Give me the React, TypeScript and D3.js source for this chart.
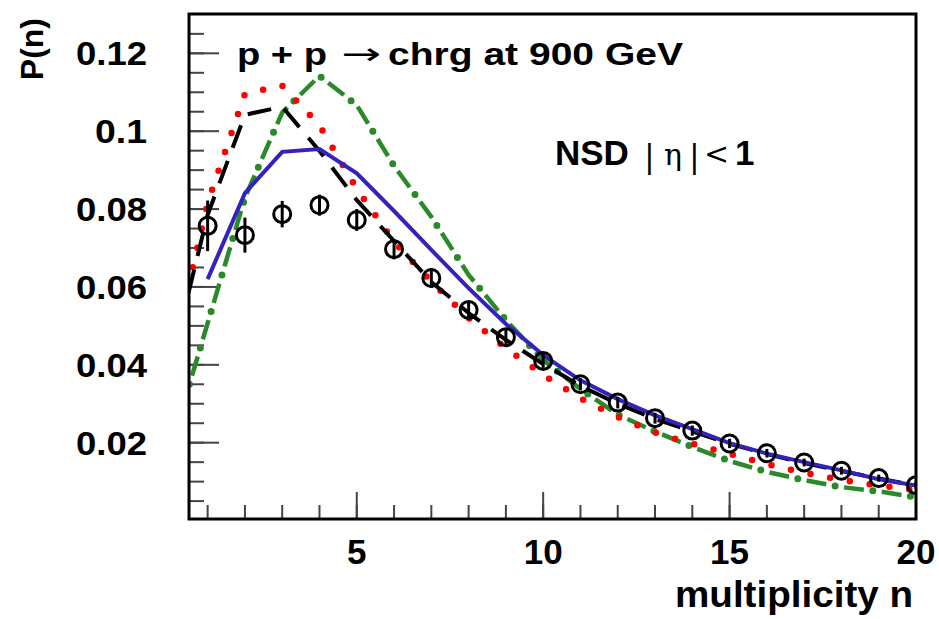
import React from "react";
import * as d3 from "d3";

// ---- data ----
const modelN = d3.range(0, 21);
const dataN = d3.range(1, 21);
const dataP = [0.0757, 0.0733, 0.0787, 0.081, 0.0772, 0.0697, 0.0623, 0.0541, 0.0471, 0.041, 0.035, 0.0303, 0.0263, 0.0231, 0.0198, 0.0173, 0.0149, 0.0128, 0.0109, 0.0091];
const dataErr = [0.0065, 0.0045, 0.0034, 0.0027, 0.0028, 0.0026, 0.0025, 0.0022, 0.002, 0.0018, 0.0016, 0.0015, 0.0014, 0.0013, 0.0012, 0.0011, 0.001, 0.001, 0.0009, 0.0009];
const blueN = d3.range(1, 21);
const blueP = [0.062, 0.0841, 0.0947, 0.0954, 0.0892, 0.0795, 0.0695, 0.0597, 0.0505, 0.0425, 0.036, 0.0312, 0.027, 0.0235, 0.0199, 0.0172, 0.015, 0.0129, 0.0106, 0.009];
const blackP = [0.0395, 0.0785, 0.1042, 0.1063, 0.0949, 0.0823, 0.0718, 0.0613, 0.0533, 0.0464, 0.0402, 0.0346, 0.03, 0.0261, 0.0229, 0.0197, 0.0171, 0.0148, 0.0127, 0.0108, 0.009];
const redP = [0.04, 0.0816, 0.1096, 0.1117, 0.1015, 0.0852, 0.0716, 0.0613, 0.052, 0.0443, 0.0374, 0.0314, 0.0266, 0.0226, 0.0197, 0.0171, 0.0145, 0.0123, 0.0104, 0.009, 0.0078];
const greenP = [0.0185, 0.0507, 0.0829, 0.1048, 0.1142, 0.1067, 0.0911, 0.078, 0.0631, 0.0515, 0.0412, 0.0338, 0.0272, 0.0229, 0.0189, 0.0153, 0.0125, 0.0104, 0.0086, 0.0075, 0.006];
const xMajorTicks = [5, 10, 15, 20];
const xMinorTicks = d3.range(1, 20);
const yMajorTicks = [0.02, 0.04, 0.06, 0.08, 0.1, 0.12];
const yTickLabels = ["0.02", "0.04", "0.06", "0.08", "0.1", "0.12"];
const yMinorTicks = d3.range(1, 26).map((i) => i * 0.005);

const L = 189, R = 916, T = 14, B = 519;
const x = d3.scaleLinear().domain([0.5, 20]).range([L, R]);
const y = d3.scaleLinear().domain([0.0004, 0.1301]).range([B, T]);

const font = "'Liberation Sans', Arial, Helvetica, sans-serif";

export default function App() {
  const line = d3.line<[number, number]>().x((d) => x(d[0])).y((d) => y(d[1]));
  const zip = (ns: number[], ps: number[]) => ns.map((n, i) => [n, ps[i]] as [number, number]);
  return (
    <svg width={939} height={619} style={{ position: "absolute", left: 0, top: 0, background: "#fff" }}>
      <defs>
        <clipPath id="plot">
          <rect x={L} y={T} width={R - L} height={B - T} />
        </clipPath>
      </defs>
      <rect x={0} y={0} width={939} height={619} fill="#fff" />
      {/* ticks */}
      {xMinorTicks.map((t) => (
        <line key={"xm" + t} x1={x(t)} x2={x(t)} y1={B} y2={B - 14} stroke="#444" strokeWidth={2} />
      ))}
      {xMajorTicks.map((t) => (
        <line key={"xM" + t} x1={x(t)} x2={x(t)} y1={B} y2={B - 27} stroke="#444" strokeWidth={2} />
      ))}
      {yMinorTicks.map((t) => (
        <line key={"ym" + t} x1={L} x2={L + 15} y1={y(t)} y2={y(t)} stroke="#444" strokeWidth={2} />
      ))}
      {yMajorTicks.map((t) => (
        <line key={"yM" + t} x1={L} x2={L + 30} y1={y(t)} y2={y(t)} stroke="#444" strokeWidth={2} />
      ))}
      {/* curves */}
      <g clipPath="url(#plot)" fill="none">
        <path d={line(zip(modelN, greenP)) || ""} stroke="#2a8a2a" strokeWidth={4.5} strokeDasharray="20 18" />
        <path d={line(zip(modelN, greenP)) || ""} stroke="#2a8a2a" strokeWidth={7} strokeDasharray="0 38" strokeDashoffset={-29} strokeLinecap="round" />
        <path d={line(zip(modelN, redP)) || ""} stroke="#ff0000" strokeWidth={6.5} strokeDasharray="0 20" strokeLinecap="round" />
        <path d={line(zip(modelN, blackP)) || ""} stroke="#000" strokeWidth={4} strokeDasharray="24 14" />
        <path d={line(zip(blueN, blueP)) || ""} stroke="#3322bb" strokeWidth={4} />
        {dataN.map((n, i) => (
          <g key={"d" + n}>
            <line x1={x(n)} x2={x(n)} y1={y(dataP[i] + dataErr[i])} y2={y(dataP[i] - dataErr[i])} stroke="#000" strokeWidth={3} />
            <circle cx={x(n)} cy={y(dataP[i])} r={8.5} fill="none" stroke="#000" strokeWidth={3} />
          </g>
        ))}
      </g>
      {/* frame */}
      <rect x={L} y={T} width={R - L} height={B - T} fill="none" stroke="#000" strokeWidth={3} />
      {/* tick labels */}
      {yMajorTicks.map((t, i) => (
        <text key={"yl" + t} x={147} y={y(t) + 12} textAnchor="end" fontFamily={font} fontWeight="bold" fontSize={33} fill="#000" textLength={yTickLabels[i].length === 3 ? 52 : 71} lengthAdjust="spacingAndGlyphs">
          {yTickLabels[i]}
        </text>
      ))}
      {xMajorTicks.map((t) => (
        <text key={"xl" + t} x={x(t)} y={564} textAnchor="middle" fontFamily={font} fontWeight="bold" fontSize={35} fill="#000">
          {t}
        </text>
      ))}
      {/* axis titles */}
      <text x={913} y={607} textAnchor="end" fontFamily={font} fontWeight="bold" fontSize={37} fill="#000" textLength={238} lengthAdjust="spacingAndGlyphs">
        multiplicity n
      </text>
      <text transform="translate(43,18) rotate(-90)" textAnchor="end" fontFamily={font} fontWeight="bold" fontSize={32} fill="#000">
        P(n)
      </text>
      {/* annotations */}
      <text x={237} y={65} fontFamily={font} fontWeight="bold" fontSize={31} fill="#000" textLength={90} lengthAdjust="spacingAndGlyphs">
        p + p
      </text>
      <text x={341} y={64} fontFamily="'DejaVu Sans', sans-serif" fontSize={30} fill="#000" textLength={40} lengthAdjust="spacingAndGlyphs">
        →
      </text>
      <text x={388} y={65} fontFamily={font} fontWeight="bold" fontSize={31} fill="#000" textLength={295} lengthAdjust="spacingAndGlyphs">
        chrg at 900 GeV
      </text>
      <text x={555} y={165} fontFamily={font} fontWeight="bold" fontSize={35} fill="#000">
        NSD
      </text>
      <text x={644} y={167} fontFamily="'DejaVu Serif', serif" fontSize={32} fill="#000">
        |
      </text>
      <text x={664} y={165} fontFamily="'DejaVu Serif', serif" fontSize={30} fill="#000">
        η
      </text>
      <text x={689} y={167} fontFamily="'DejaVu Serif', serif" fontSize={32} fill="#000">
        |
      </text>
      <text x={704} y={164} fontFamily="'DejaVu Serif', serif" fontSize={30} fill="#000">
        &lt;
      </text>
      <text x={735} y={165} fontFamily={font} fontWeight="bold" fontSize={35} fill="#000">
        1
      </text>
    </svg>
  );
}
